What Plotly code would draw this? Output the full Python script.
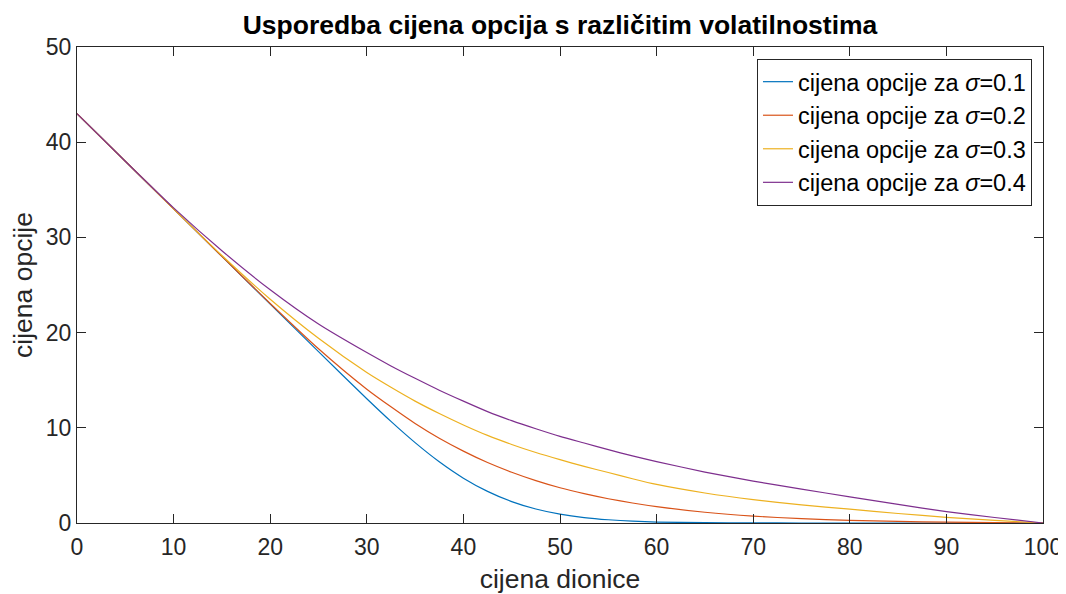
import plotly.graph_objects as go

# stock price grid (x) and option prices
S = [0, 5, 10, 15, 20, 25, 30, 32.5, 35, 37.5, 40, 42.5, 45, 47.5, 50, 52.5, 55, 57.5, 60, 65, 70, 75, 80, 85, 90, 95, 100]
v_s01 = [43, 38, 33, 28, 23, 18, 13.05, 10.67, 8.44, 6.43, 4.71, 3.32, 2.25, 1.47, 0.93, 0.57, 0.34, 0.19, 0.1, 0.03, 0.01, 0, 0, 0, 0, 0, 0]
v_s02 = [43, 38, 33, 28, 23.06, 18.3, 14.05, 12.2, 10.45, 8.9, 7.55, 6.35, 5.33, 4.45, 3.7, 3.08, 2.55, 2.1, 1.72, 1.13, 0.72, 0.45, 0.28, 0.17, 0.09, 0.04, 0]
v_s03 = [43, 38, 33.0, 28.1, 23.5, 19.4, 15.8, 14.25, 12.8, 11.5, 10.3, 9.2, 8.25, 7.4, 6.65, 5.95, 5.3, 4.65, 4.05, 3.15, 2.45, 1.9, 1.45, 1.0, 0.6, 0.28, 0]
v_s04 = [43, 38.0, 33.1, 28.6, 24.5, 20.9, 17.9, 16.5, 15.2, 13.95, 12.8, 11.7, 10.75, 9.9, 9.1, 8.4, 7.7, 7.05, 6.45, 5.35, 4.4, 3.55, 2.75, 1.95, 1.2, 0.58, 0]

series_names = ["cijena opcije za <i>σ</i>=0.1", "cijena opcije za <i>σ</i>=0.2",
                "cijena opcije za <i>σ</i>=0.3", "cijena opcije za <i>σ</i>=0.4"]
series_vals = [v_s01, v_s02, v_s03, v_s04]
colors = ["#0072BD", "#D95319", "#EDB120", "#7E2F8E"]

x_ticks = [0, 10, 20, 30, 40, 50, 60, 70, 80, 90, 100]
y_ticks = [0, 10, 20, 30, 40, 50]

FONT = "Liberation Sans, Arial, Helvetica, sans-serif"
AX = "#262626"

# the page body adds an 8px offset; size the figure to fit the 1066x594 window
W, H = 1058, 586

fig = go.Figure()
for name, vals, c in zip(series_names, series_vals, colors):
    fig.add_trace(go.Scatter(x=S, y=vals, mode="lines", name=name,
                             line=dict(color=c, width=1.2, shape="spline", smoothing=0.6)))

axis_common = dict(showline=True, linecolor=AX, linewidth=1, mirror="ticks",
                   ticks="inside", ticklen=9, tickwidth=1, tickcolor=AX,
                   showgrid=False, zeroline=False, automargin=False,
                   tickfont=dict(family=FONT, size=23, color=AX))

fig.update_layout(
    width=W, height=H,
    paper_bgcolor="white", plot_bgcolor="white",
    margin=dict(l=69, r=23, t=39, b=71),
    title=dict(text="<b>Usporedba cijena opcija s različitim volatilnostima</b>",
               x=552 / W, xanchor="center", y=1 - 17 / H, yanchor="middle",
               font=dict(family=FONT, size=26.5, color="black"), automargin=False),
    xaxis=dict(range=[0, 100], tickvals=x_ticks, ticklabelstandoff=3,
               title=dict(text="cijena dionice", font=dict(family=FONT, size=26.5, color=AX), standoff=14),
               **axis_common),
    yaxis=dict(range=[0, 50], tickvals=y_ticks,
               title=dict(text="cijena opcije", font=dict(family=FONT, size=26.5, color=AX), standoff=6),
               **axis_common),
    legend=dict(x=0.9886, xanchor="right", y=0.975, yanchor="top",
                bgcolor="white", bordercolor=AX, borderwidth=1,
                font=dict(family=FONT, size=23.5, color="black"),
                itemwidth=30, tracegroupgap=0),
    showlegend=True,
)

fig.write_html("out.html")
